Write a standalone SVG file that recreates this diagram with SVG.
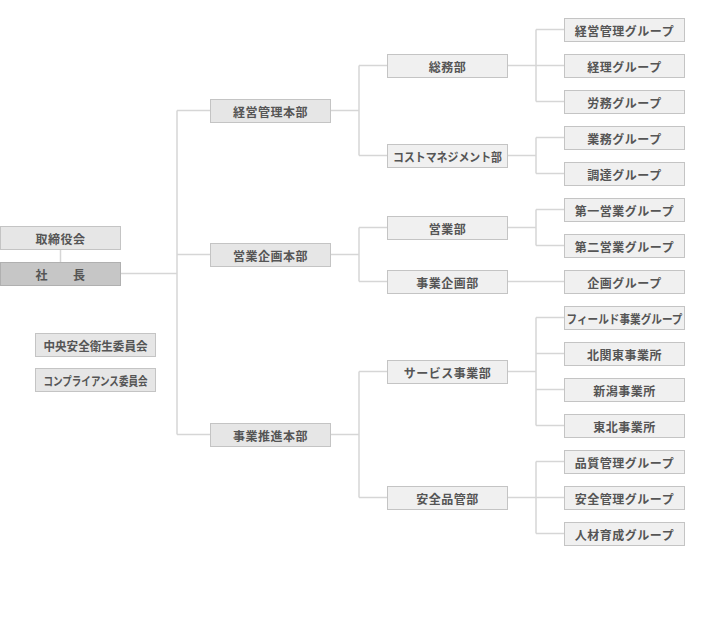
<svg xmlns="http://www.w3.org/2000/svg" width="710" height="633" viewBox="0 0 710 633">
<style>
.b{fill:#f0f0f0;stroke:#c4c4c4;stroke-width:1}
.b1{fill:#e6e6e6;stroke:#c4c4c4;stroke-width:1}
.bp{fill:#c6c6c6;stroke:#b0b0b0;stroke-width:1}
.t{font-family:"Noto Sans CJK JP","Noto Sans",sans-serif;font-size:12px;font-weight:bold;fill:#555;text-anchor:middle;dominant-baseline:central;letter-spacing:0.5px}
.n{letter-spacing:0}
.c{fill:none;stroke:#d6d6d6;stroke-width:1.5}
</style>
<rect width="710" height="633" fill="#fff"/>
<g id="connectors">
<path class="c" d="M60.5 249V262"/>
<path class="c" d="M120 273.5H177M177 110.5V434.5M177 110.5H210M177 254.5H210M177 434.5H210"/>
<path class="c" d="M330 110.5H359M359 65.5V155.5M359 65.5H387M359 155.5H387"/>
<path class="c" d="M330 254.5H359M359 227.5V281.5M359 227.5H387M359 281.5H387"/>
<path class="c" d="M330 434.5H359M359 371.5V497.5M359 371.5H387M359 497.5H387"/>
<path class="c" d="M507 65.5H564M536 29.5V101.5M536 29.5H564M536 101.5H564"/>
<path class="c" d="M507 155.5H536M536 137.5V173.5M536 137.5H564M536 173.5H564"/>
<path class="c" d="M507 227.5H536M536 209.5V245.5M536 209.5H564M536 245.5H564"/>
<path class="c" d="M507 281.5H564"/>
<path class="c" d="M507 371.5H536M536 317.5V425.5M536 317.5H564M536 353.5H564M536 389.5H564M536 425.5H564"/>
<path class="c" d="M507 497.5H536M536 461.5V533.5M536 461.5H564M536 497.5H564M536 533.5H564"/>
</g>
<g id="board"><rect class="b1" x="0.5" y="226.5" width="120" height="23"/><text class="t" x="60.5" y="238.5">取締役会</text></g>
<g id="president"><rect class="bp" x="0.5" y="262.5" width="120" height="23"/><text class="t" x="60.5" y="274" xml:space="preserve">社　　長</text></g>
<g id="c1"><rect class="b1" x="35.5" y="333.5" width="120" height="23"/><text class="t n" x="95.5" y="345" textLength="104" lengthAdjust="spacingAndGlyphs">中央安全衛生委員会</text></g>
<g id="c2"><rect class="b1" x="35.5" y="368.5" width="120" height="23"/><text class="t n" x="95.5" y="380" textLength="104" lengthAdjust="spacingAndGlyphs">コンプライアンス委員会</text></g>
<g id="h1"><rect class="b1" x="210.5" y="99.5" width="120" height="23"/><text class="t" x="270.5" y="111">経営管理本部</text></g>
<g id="h2"><rect class="b1" x="210.5" y="243.5" width="120" height="23"/><text class="t" x="270.5" y="255">営業企画本部</text></g>
<g id="h3"><rect class="b1" x="210.5" y="423.5" width="120" height="23"/><text class="t" x="270.5" y="435">事業推進本部</text></g>
<g id="d1"><rect class="b" x="387.5" y="54.5" width="120" height="23"/><text class="t" x="447.5" y="66">総務部</text></g>
<g id="d2"><rect class="b" x="387.5" y="144.5" width="120" height="23"/><text class="t n" x="447.5" y="156" textLength="109" lengthAdjust="spacingAndGlyphs">コストマネジメント部</text></g>
<g id="d3"><rect class="b" x="387.5" y="216.5" width="120" height="23"/><text class="t" x="447.5" y="228">営業部</text></g>
<g id="d4"><rect class="b" x="387.5" y="270.5" width="120" height="23"/><text class="t" x="447.5" y="282">事業企画部</text></g>
<g id="d5"><rect class="b" x="387.5" y="360.5" width="120" height="23"/><text class="t" x="447.5" y="372">サービス事業部</text></g>
<g id="d6"><rect class="b" x="387.5" y="486.5" width="120" height="23"/><text class="t" x="447.5" y="498">安全品管部</text></g>
<g id="g1"><rect class="b" x="564.5" y="18.5" width="120" height="23"/><text class="t" x="624.5" y="30">経営管理グループ</text></g>
<g id="g2"><rect class="b" x="564.5" y="54.5" width="120" height="23"/><text class="t" x="624.5" y="66">経理グループ</text></g>
<g id="g3"><rect class="b" x="564.5" y="90.5" width="120" height="23"/><text class="t" x="624.5" y="102">労務グループ</text></g>
<g id="g4"><rect class="b" x="564.5" y="126.5" width="120" height="23"/><text class="t" x="624.5" y="138">業務グループ</text></g>
<g id="g5"><rect class="b" x="564.5" y="162.5" width="120" height="23"/><text class="t" x="624.5" y="174">調達グループ</text></g>
<g id="g6"><rect class="b" x="564.5" y="198.5" width="120" height="23"/><text class="t" x="624.5" y="210">第一営業グループ</text></g>
<g id="g7"><rect class="b" x="564.5" y="234.5" width="120" height="23"/><text class="t" x="624.5" y="246">第二営業グループ</text></g>
<g id="g8"><rect class="b" x="564.5" y="270.5" width="120" height="23"/><text class="t" x="624.5" y="282">企画グループ</text></g>
<g id="g9"><rect class="b" x="564.5" y="306.5" width="120" height="23"/><text class="t n" x="624.5" y="318" textLength="116" lengthAdjust="spacingAndGlyphs">フィールド事業グループ</text></g>
<g id="g10"><rect class="b" x="564.5" y="342.5" width="120" height="23"/><text class="t" x="624.5" y="354">北関東事業所</text></g>
<g id="g11"><rect class="b" x="564.5" y="378.5" width="120" height="23"/><text class="t" x="624.5" y="390">新潟事業所</text></g>
<g id="g12"><rect class="b" x="564.5" y="414.5" width="120" height="23"/><text class="t" x="624.5" y="426">東北事業所</text></g>
<g id="g13"><rect class="b" x="564.5" y="450.5" width="120" height="23"/><text class="t" x="624.5" y="462">品質管理グループ</text></g>
<g id="g14"><rect class="b" x="564.5" y="486.5" width="120" height="23"/><text class="t" x="624.5" y="498">安全管理グループ</text></g>
<g id="g15"><rect class="b" x="564.5" y="522.5" width="120" height="23"/><text class="t" x="624.5" y="534">人材育成グループ</text></g>
</svg>
